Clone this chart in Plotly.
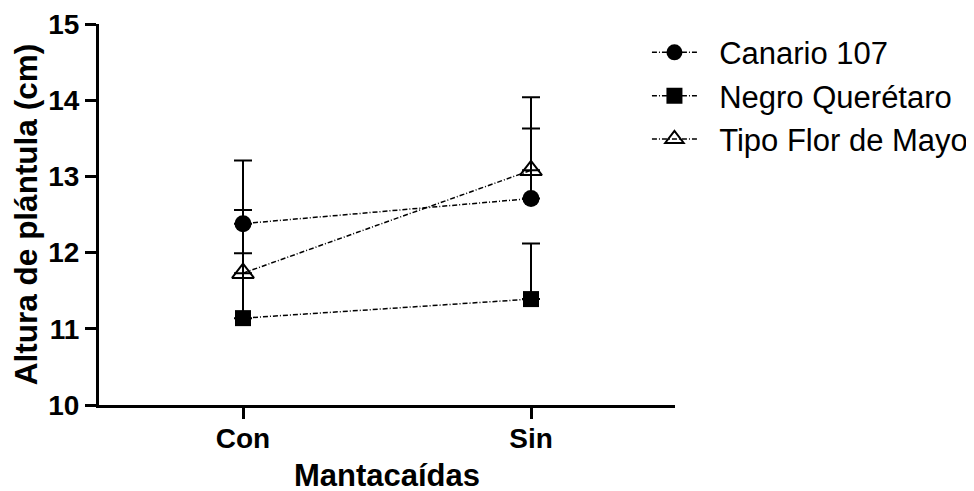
import plotly.graph_objects as go

categories = ["Con", "Sin"]
series_names = ["Canario 107", "Negro Querétaro", "Tipo Flor de Mayo"]
canario = [12.38, 12.71]
negro = [11.14, 11.39]
tipo = [11.73, 13.08]
canario_err = [0.83, 0.92]
negro_err = [1.42, 0.73]
tipo_err = [0.26, 0.96]
y_ticks = [10, 11, 12, 13, 14, 15]

FONT = "Liberation Sans, Arial, sans-serif"
markers = [
    dict(symbol="circle", size=17, color="black"),
    dict(symbol="square", size=16, color="black"),
    dict(symbol="triangle-up-open", size=19, color="black", line=dict(width=2, color="black")),
]
values = [canario, negro, tipo]
errors = [canario_err, negro_err, tipo_err]

fig = go.Figure()
for i, (name, vals, errs, mk) in enumerate(zip(series_names, values, errors, markers)):
    fig.add_trace(go.Scatter(
        x=categories, y=vals, name="\u00a0\u00a0" + name, mode="lines+markers",
        legendgroup=f"g{i}",
        line=dict(color="black", width=1.5, dash="5px,2px,1px,2px"),
        marker=mk,
        error_y=dict(type="data", array=errs, arrayminus=[0] * len(errs), symmetric=False,
                     thickness=2, width=9, color="black"),
    ))

fig.update_layout(
    width=974, height=491, autosize=False,
    margin=dict(l=91, r=307, t=16, b=94, autoexpand=False),
    paper_bgcolor="white", plot_bgcolor="white",
    font=dict(family=FONT, color="black"),
    legend=dict(
        xref="container", yref="container", x=0.656, y=0.964,
        xanchor="left", yanchor="top",
        font=dict(family=FONT, size=31, color="black"),
        tracegroupgap=0, itemwidth=45, bgcolor="rgba(0,0,0,0)",
    ),
    xaxis=dict(
        type="category", range=[-0.5, 1.5], showline=True, linewidth=3, linecolor="black",
        ticks="outside", ticklen=11, tickwidth=3, tickcolor="black", showgrid=False, zeroline=False,
        automargin=False, ticklabelstandoff=-5,
        tickfont=dict(family=FONT, size=28, color="black", weight="bold"),
        title=dict(text="<b>Mantacaídas</b>", font=dict(family=FONT, size=31, color="black"), standoff=12),
    ),
    yaxis=dict(
        range=[10, 15], tickvals=y_ticks, showline=True, linewidth=3, linecolor="black",
        ticks="outside", ticklen=11, tickwidth=3, tickcolor="black", showgrid=False, zeroline=False,
        automargin=False,
        tickfont=dict(family=FONT, size=28, color="black", weight="bold"),
        title=dict(text="<b>Altura de plántula (cm)</b>", font=dict(family=FONT, size=31.5, color="black"), standoff=8),
    ),
)

fig.write_html("out.html")
